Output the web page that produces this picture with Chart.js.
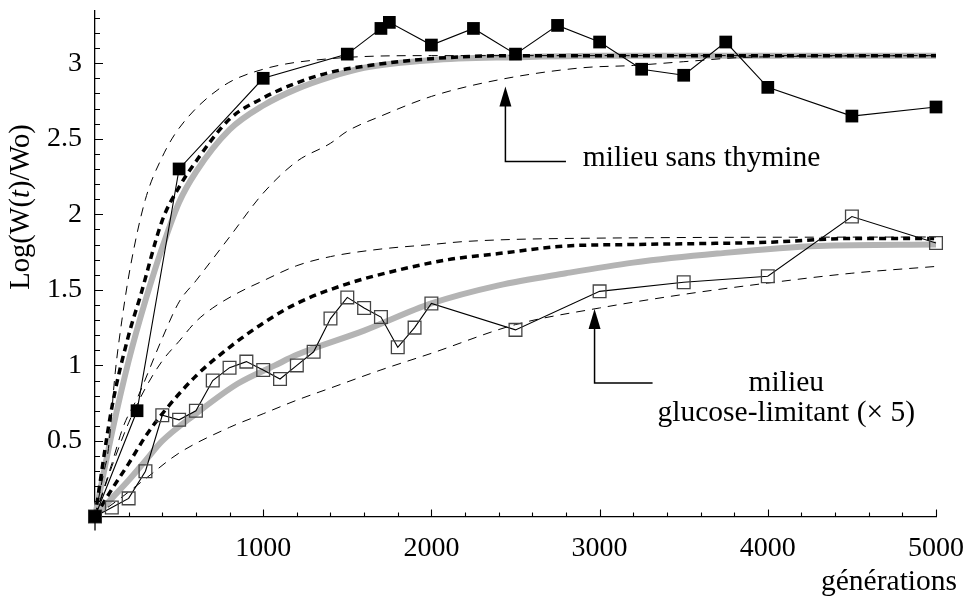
<!DOCTYPE html>
<html>
<head>
<meta charset="utf-8">
<script src="https://cdn.jsdelivr.net/npm/chart.js@4/dist/chart.umd.min.js"></script>
<style>
  body { margin: 0; background: #fff; }
</style>
</head>
<body>
<canvas id="chart" width="966" height="606"></canvas>
<script>
//=================Data===================//
// observed points, milieu sans thymine (filled squares)
var thyGen = [0, 250, 500, 1000, 1500, 1700, 1750, 2000, 2250, 2500, 2750, 3000, 3250, 3500, 3750, 4000, 4500, 5000];
var thyObs = [0, 0.70, 2.30, 2.90, 3.06, 3.23, 3.27, 3.12, 3.23, 3.06, 3.25, 3.14, 2.96, 2.92, 3.14, 2.84, 2.65, 2.71];

// observed points, milieu glucose-limitant x5 (open squares)
var gluGen = [0, 100, 200, 300, 400, 500, 600, 700, 800, 900, 1000, 1100, 1200, 1300, 1400, 1500, 1600, 1700, 1800, 1900, 2000, 2500, 3000, 3500, 4000, 4500, 5000];
var gluObs = [0, 0.06, 0.12, 0.30, 0.67, 0.64, 0.70, 0.90, 0.985, 1.025, 0.97, 0.91, 1.0, 1.09, 1.31, 1.45, 1.38, 1.32, 1.12, 1.25, 1.41, 1.235, 1.49, 1.55, 1.59, 1.985, 1.81];

// grey model curves
var thyModelGen = [0, 100, 200, 300, 400, 500, 600, 800, 1000, 1200, 1400, 1600, 2000, 2500, 3000, 5000];
var thyModel    = [0, 0.55, 1.03, 1.43, 1.78, 2.08, 2.28, 2.56, 2.72, 2.83, 2.91, 2.97, 3.02, 3.04, 3.05, 3.05];
var gluModelGen = [0, 100, 200, 300, 400, 600, 850, 1070, 1200, 1600, 2000, 2400, 2800, 3200, 3700, 4300, 5000];
var gluModel    = [0, 0.12, 0.24, 0.37, 0.50, 0.68, 0.88, 1.0, 1.07, 1.23, 1.41, 1.53, 1.61, 1.68, 1.74, 1.79, 1.80];

// thick dotted mean curves
var thyMeanGen = [0, 100, 200, 270, 400, 500, 600, 800, 1000, 1200, 1400, 1600, 2000, 2500, 5000];
var thyMean    = [0, 0.72, 1.2, 1.46, 1.96, 2.18, 2.35, 2.63, 2.77, 2.87, 2.94, 2.98, 3.03, 3.05, 3.05];
var gluMeanGen = [0, 100, 200, 300, 400, 600, 800, 1000, 1200, 1500, 1800, 2100, 2400, 2800, 3200, 4000, 4500, 5000];
var gluMean    = [0, 0.18, 0.35, 0.53, 0.68, 0.93, 1.12, 1.28, 1.41, 1.54, 1.63, 1.70, 1.74, 1.79, 1.80, 1.815, 1.84, 1.84];

// thin dashed envelopes
var thyHighGen = [0, 50, 80, 120, 160, 210, 300, 400, 500, 750, 1000, 1400, 2000, 5000];
var thyHigh    = [0, 0.28, 0.45, 0.95, 1.30, 1.65, 2.10, 2.38, 2.57, 2.84, 2.96, 3.03, 3.05, 3.05];
var thyLowGen = [0, 100, 170, 254, 400, 500, 600, 800, 1000, 1200, 1400, 1500, 1700, 2000, 2400, 2900, 3200, 3500, 3900, 5000];
var thyLow    = [0, 0.35, 0.60, 0.79, 1.18, 1.42, 1.56, 1.85, 2.14, 2.35, 2.47, 2.55, 2.65, 2.78, 2.89, 2.97, 2.985, 3.01, 3.04, 3.05];
var gluHighGen = [0, 100, 200, 300, 400, 500, 600, 700, 850, 1000, 1200, 1400, 1700, 2000, 2200, 2800, 5000];
var gluHigh    = [0, 0.33, 0.62, 0.85, 1.03, 1.16, 1.29, 1.38, 1.48, 1.56, 1.66, 1.72, 1.77, 1.80, 1.82, 1.84, 1.85];
var gluLowGen = [0, 150, 300, 500, 800, 1000, 1200, 1400, 1700, 2000, 2500, 3000, 3500, 4000, 4500, 5000];
var gluLow    = [0, 0.12, 0.25, 0.42, 0.59, 0.68, 0.77, 0.85, 0.97, 1.08, 1.27, 1.38, 1.47, 1.545, 1.61, 1.655];

// tick labels
var xTickLabels = [1000, 2000, 3000, 4000, 5000];
var yTickLabels = [0.5, 1, 1.5, 2, 2.5, 3];

// annotations (in data units)
var notes = [
  { text: 'milieu sans thymine', gen: 2900, val: 2.368, align: 'left' },
  { text: 'milieu', gen: 4110, val: 0.884, align: 'center' },
  { text: 'glucose-limitant (\u00d7 5)', gen: 4110, val: 0.682, align: 'center' }
];
var arrows = [
  { gen: 2440, tip: 2.845, elbow: 2.35, endGen: 2800 },
  { gen: 2970, tip: 1.374, elbow: 0.884, endGen: 3315 }
];

//=================Helpers===================//
var serif = "'Liberation Serif', 'DejaVu Serif', serif";

function pts(xs, ys) {
  var out = [];
  for (var i = 0; i < xs.length; i++) {
    out.push({ x: xs[i], y: ys[i] });
  }
  return out;
}

function curve(xs, ys, color, width, dash) {
  return {
    data: pts(xs, ys),
    borderColor: color,
    borderWidth: width,
    borderDash: dash,
    pointRadius: 0,
    cubicInterpolationMode: 'monotone',
    clip: false
  };
}

function plainLabel(value) {
  return String(value);
}

//=================Axes & notes plugin===================//
var extras = {
  id: 'extras',
  afterDraw: function(chart) {
    var ctx = chart.ctx;
    var xs = chart.scales.x;
    var ys = chart.scales.y;
    var x0 = xs.getPixelForValue(0);
    var y0 = ys.getPixelForValue(0);
    ctx.save();
    ctx.strokeStyle = '#000';
    ctx.lineWidth = 1.3;

    // y axis runs a bit below the origin
    ctx.beginPath();
    ctx.moveTo(x0, y0);
    ctx.lineTo(x0, y0 + 14);
    ctx.stroke();

    // ticks pointing inward
    ctx.lineWidth = 1.1;
    ctx.beginPath();
    for (var v = 0.1; v < 3.35; v += 0.1) {
      var py = Math.round(ys.getPixelForValue(v)) + 0.5;
      var major = Math.abs(v * 2 - Math.round(v * 2)) < 0.01;
      ctx.moveTo(x0, py);
      ctx.lineTo(x0 + (major ? 8 : 5), py);
    }
    for (var g = 200; g <= 5000; g += 200) {
      var px = Math.round(xs.getPixelForValue(g)) + 0.5;
      var big = g % 1000 === 0;
      ctx.moveTo(px, y0);
      ctx.lineTo(px, y0 - (big ? 7 : 4));
    }
    ctx.stroke();

    // arrows
    ctx.lineWidth = 1.5;
    ctx.fillStyle = '#000';
    arrows.forEach(function(a) {
      var ax = xs.getPixelForValue(a.gen);
      var tipY = ys.getPixelForValue(a.tip);
      var elY = ys.getPixelForValue(a.elbow);
      var endX = xs.getPixelForValue(a.endGen);
      ctx.beginPath();
      ctx.moveTo(ax, tipY + 18);
      ctx.lineTo(ax, elY);
      ctx.lineTo(endX, elY);
      ctx.stroke();
      ctx.beginPath();
      ctx.moveTo(ax, tipY);
      ctx.lineTo(ax - 6, tipY + 20);
      ctx.lineTo(ax + 6, tipY + 20);
      ctx.closePath();
      ctx.fill();
    });

    // notes
    ctx.font = '29.5px ' + serif;
    ctx.textBaseline = 'middle';
    notes.forEach(function(n) {
      ctx.textAlign = n.align;
      ctx.fillText(n.text, xs.getPixelForValue(n.gen), ys.getPixelForValue(n.val));
    });

    // x title
    ctx.textAlign = 'right';
    ctx.textBaseline = 'alphabetic';
    ctx.fillText('g\u00e9n\u00e9rations', 957, 590);

    // y title with italic t
    var parts = [['Log(W(', ''], ['t', 'italic '], [')/Wo)', '']];
    var total = 0;
    parts.forEach(function(p) {
      ctx.font = p[1] + '28.5px ' + serif;
      p.push(ctx.measureText(p[0]).width);
      total += p[2];
    });
    ctx.translate(22, 207);
    ctx.rotate(-Math.PI / 2);
    ctx.textAlign = 'left';
    ctx.textBaseline = 'middle';
    var cx = -total / 2;
    parts.forEach(function(p) {
      ctx.font = p[1] + '28.5px ' + serif;
      ctx.fillText(p[0], cx, 0);
      cx += p[2];
    });
    ctx.restore();
  }
};

//=================Chart===================//
var ctx = document.getElementById('chart').getContext('2d');
var lineChart = new Chart(ctx, {
  type: 'line',
  data: {
    datasets: [
      {
        data: pts(thyGen, thyObs),
        borderColor: '#000',
        borderWidth: 1.1,
        pointStyle: 'rect',
        pointRadius: 9,
        pointBackgroundColor: '#000',
        pointBorderColor: '#000',
        pointBorderWidth: 0,
        clip: false
      },
      {
        data: pts(gluGen, gluObs),
        borderColor: '#000',
        borderWidth: 1.1,
        pointStyle: 'rect',
        pointRadius: 9,
        pointBackgroundColor: 'rgba(0,0,0,0)',
        pointBorderColor: '#444',
        pointBorderWidth: 1.3,
        clip: false
      },
      curve(thyMeanGen, thyMean, '#000', 3.5, [7, 5]),
      curve(gluMeanGen, gluMean, '#000', 3.5, [7, 5]),
      curve(thyHighGen, thyHigh, '#000', 1, [9, 7]),
      curve(thyLowGen, thyLow, '#000', 1, [9, 7]),
      curve(gluHighGen, gluHigh, '#000', 1, [9, 7]),
      curve(gluLowGen, gluLow, '#000', 1, [9, 7]),
      curve(thyModelGen, thyModel, '#b4b4b4', 6, []),
      curve(gluModelGen, gluModel, '#b4b4b4', 6, [])
    ]
  },
  options: {
    responsive: false,
    animation: false,
    devicePixelRatio: 1,
    layout: { padding: { left: 0, right: 30, top: 10, bottom: 0 } },
    plugins: {
      legend: { display: false },
      tooltip: { enabled: false }
    },
    scales: {
      x: {
        type: 'linear',
        min: 0,
        max: 5000,
        grid: { display: false, drawTicks: false },
        border: { display: true, color: '#000', width: 1.3 },
        ticks: {
          color: '#000',
          padding: 15,
          maxRotation: 0,
          callback: plainLabel,
          font: { family: serif, size: 28 }
        },
        afterBuildTicks: function(scale) {
          scale.ticks = xTickLabels.map(function(v) { return { value: v }; });
        },
        afterFit: function(scale) {
          scale.height = 89.5;
          scale.paddingLeft = 0;
          scale.paddingRight = 0;
        }
      },
      y: {
        type: 'linear',
        min: 0,
        max: 3.35,
        grid: { display: false, drawTicks: false },
        border: { display: true, color: '#000', width: 1.3 },
        ticks: {
          color: '#000',
          padding: 13,
          callback: plainLabel,
          font: { family: serif, size: 28 }
        },
        afterBuildTicks: function(scale) {
          scale.ticks = yTickLabels.map(function(v) { return { value: v }; });
        },
        afterFit: function(scale) {
          scale.width = 95;
          scale.paddingTop = 0;
          scale.paddingBottom = 0;
        }
      }
    }
  },
  plugins: [extras]
});
</script>
</body>
</html>
